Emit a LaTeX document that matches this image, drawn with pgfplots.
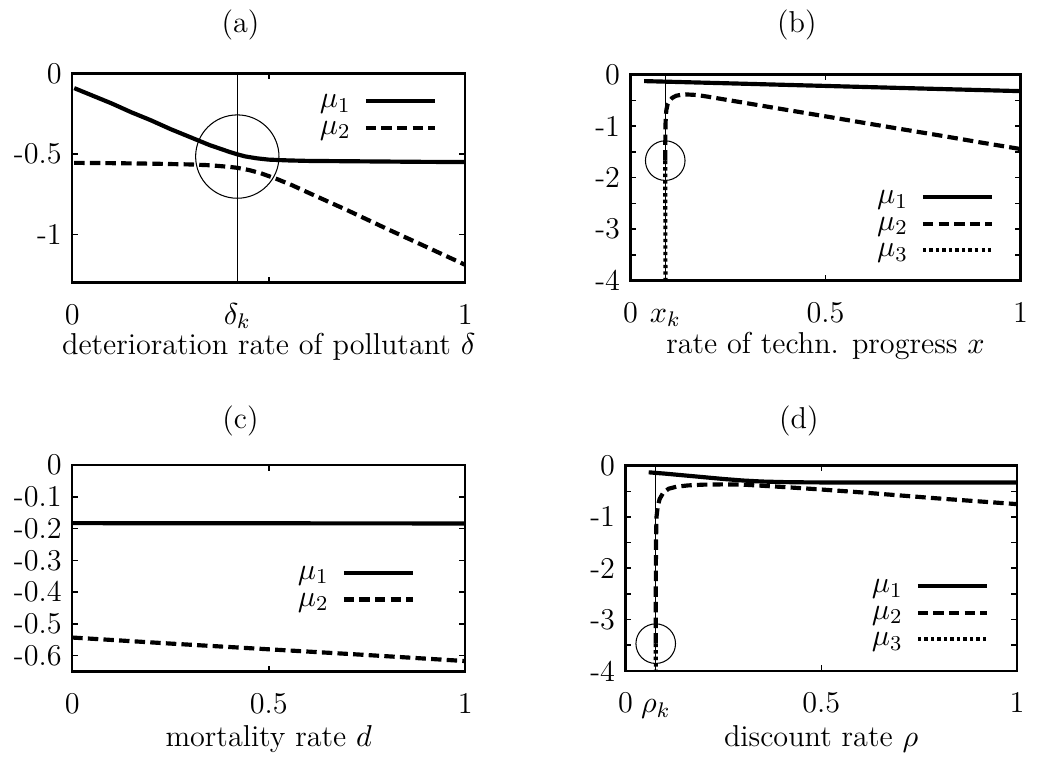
\RequirePackage{fix-cm}
\documentclass[border=0pt]{standalone}
\usepackage{pgfplots}
\pgfplotsset{compat=1.18}

% 1 px of the reference = 0.38pt
\pgfplotsset{
  panel/.style={
    scale only axis, anchor=south west,
    xmin=0, xmax=1,
    tick align=inside,
    axis line style={line width=0.9pt},
    every tick/.style={black, line width=0.6pt},
    major tick length=2.2pt, minor tick length=2.2pt,
    xtick={0,0.5,1},
    xticklabel style={yshift=-4.5pt, text height=1.5ex},
    clip mode=individual,
    legend plot pos=right,
    legend cell align=right,
    legend style={draw=none, fill=none, row sep=0.2pt, column sep=5pt, inner sep=0pt,
      nodes={inner sep=0pt, text height=1.2ex, text depth=0.8ex}},
    legend image code/.code={\draw[##1] (0pt,0.3ex) -- (26.6pt,0.3ex);},
  },
  mu1/.style={black, line width=1.6pt},
  mu2/.style={black, line width=1.6pt, dash pattern=on 4pt off 2pt},
  mu3/.style={black, line width=1.6pt, dash pattern=on 1.3pt off 1.2pt},
  kline/.style={black, line width=0.4pt, forget plot},
  ring/.style={black, line width=0.4pt, only marks, mark=o, forget plot},
}

\begin{document}
\fontsize{11.6}{13.9}\selectfont
\begin{tikzpicture}
\path (0,0) rectangle (394.44pt,286.9pt);

% (a)
\begin{axis}[panel, at={(27.74pt,182.4pt)}, width=150.86pt, height=80.18pt,
  ymin=-1.3, ymax=0,
  ytick={-1,-0.5,0}, yticklabels={-1,-0.5,0},
  xticklabels={0,,1},
  extra x ticks={0.42}, extra x tick labels={$\delta_k$},
  extra x tick style={major tick length=0pt},
  legend style={at={(0.93,0.915)}, anchor=north east}]
\addplot[mu1] coordinates {(0.005,-0.09) (0.05,-0.135) (0.1,-0.185) (0.15,-0.24)
  (0.2,-0.29) (0.25,-0.345) (0.3,-0.395) (0.35,-0.445) (0.38,-0.47) (0.4,-0.487)
  (0.42,-0.502) (0.44,-0.515) (0.47,-0.527) (0.5,-0.535) (0.55,-0.54) (0.6,-0.543)
  (0.7,-0.545) (0.8,-0.547) (0.9,-0.549) (1,-0.55)};
\addlegendentry{$\mu_1$}
\addplot[mu2] coordinates {(0.005,-0.555) (0.1,-0.557) (0.2,-0.56) (0.3,-0.565)
  (0.35,-0.57) (0.4,-0.58) (0.42,-0.586) (0.45,-0.6) (0.48,-0.62) (0.52,-0.655)
  (0.56,-0.695) (0.6,-0.74) (0.7,-0.85) (0.8,-0.965) (0.9,-1.077) (1,-1.19)};
\addlegendentry{$\mu_2$}
\addplot[kline] coordinates {(0.42,0) (0.42,-1.3)};
\addplot[ring, mark size=16pt] coordinates {(0.42,-0.516)};
\end{axis}

% (b)
\begin{axis}[panel, at={(242.06pt,183.16pt)}, width=149.72pt, height=79.04pt,
  ymin=-4, ymax=0,
  ytick={-4,-3,-2,-1,0}, yticklabels={-4,-3,-2,-1,0},
  minor ytick={-3.5,-2.5,-1.5,-0.5},
  xticklabels={0,0.5,1},
  extra x ticks={0.089}, extra x tick labels={$x_k$},
  extra x tick style={major tick length=0pt},
  legend style={at={(0.934,0.452)}, anchor=north east}]
\addplot[mu1] coordinates {(0.035,-0.125) (0.25,-0.168) (0.5,-0.219) (0.75,-0.27) (1,-0.32)};
\addlegendentry{$\mu_1$}
\addplot[mu2] coordinates {(0.089,-1.67) (0.0892,-1.3) (0.0896,-1.0) (0.0905,-0.8)
  (0.092,-0.68) (0.095,-0.58) (0.1,-0.51) (0.107,-0.45) (0.117,-0.41) (0.13,-0.39)
  (0.145,-0.385) (0.17,-0.395) (0.2,-0.43) (0.3,-0.557) (0.4,-0.684) (0.5,-0.81)
  (0.6,-0.938) (0.7,-1.065) (0.8,-1.19) (0.9,-1.32) (1,-1.445)};
\addlegendentry{$\mu_2$}
\addplot[mu3] coordinates {(0.089,-1.67) (0.0892,-2.5) (0.0895,-4)};
\addlegendentry{$\mu_3$}
\addplot[kline] coordinates {(0.089,0) (0.089,-4)};
\addplot[ring, mark size=7.6pt] coordinates {(0.089,-1.67)};
\end{axis}

% (c)
\begin{axis}[panel, at={(27.74pt,33.06pt)}, width=150.86pt, height=79.3pt,
  ymin=-0.65, ymax=0,
  ytick={-0.6,-0.5,-0.4,-0.3,-0.2,-0.1,0},
  yticklabels={-0.6,-0.5,-0.4,-0.3,-0.2,-0.1,0},
  xticklabels={0,0.5,1},
  legend style={at={(0.874,0.524)}, anchor=north east}]
\addplot[mu1] coordinates {(0,-0.183) (0.5,-0.1835) (1,-0.184)};
\addlegendentry{$\mu_1$}
\addplot[mu2] coordinates {(0,-0.543) (0.25,-0.562) (0.5,-0.58) (0.75,-0.598) (1,-0.617)};
\addlegendentry{$\mu_2$}
\end{axis}

% (d)
\begin{axis}[panel, at={(240.16pt,33.33pt)}, width=150.29pt, height=78.77pt,
  ymin=-4, ymax=0,
  ytick={-4,-3,-2,-1,0}, yticklabels={-4,-3,-2,-1,0},
  minor ytick={-3.5,-2.5,-1.5,-0.5},
  xticklabels={0,0.5,1},
  extra x ticks={0.077}, extra x tick labels={$\rho_k$},
  extra x tick style={major tick length=0pt},
  legend style={at={(0.93,0.46)}, anchor=north east}]
\addplot[mu1] coordinates {(0.059,-0.13) (0.1,-0.155) (0.15,-0.19) (0.2,-0.225)
  (0.25,-0.26) (0.3,-0.29) (0.35,-0.31) (0.4,-0.32) (0.45,-0.325) (0.5,-0.327)
  (0.7,-0.328) (1,-0.33)};
\addlegendentry{$\mu_1$}
\addplot[mu2] coordinates {(0.077,-3.47) (0.0772,-2.5) (0.0776,-1.5) (0.079,-1.0)
  (0.082,-0.8) (0.087,-0.65) (0.096,-0.53) (0.11,-0.45) (0.13,-0.41) (0.16,-0.385)
  (0.2,-0.37) (0.25,-0.365) (0.3,-0.37) (0.4,-0.415) (0.5,-0.465) (0.6,-0.52)
  (0.7,-0.58) (0.8,-0.64) (0.9,-0.695) (1,-0.75)};
\addlegendentry{$\mu_2$}
\addplot[mu3] coordinates {(0.077,-3.47) (0.0772,-3.8) (0.0774,-4)};
\addlegendentry{$\mu_3$}
\addplot[kline] coordinates {(0.077,0) (0.077,-4)};
\addplot[ring, mark size=7.6pt] coordinates {(0.077,-3.47)};
\end{axis}

\node at (92.34pt,281.2pt) {(a)};
\node at (305.9pt,281.2pt) {(b)};
\node at (92.34pt,129.2pt) {(c)};
\node at (306.66pt,129.2pt) {(d)};
\node at (103.17pt,157.89pt) {deterioration rate of pollutant $\delta$};
\node at (316.92pt,157.89pt) {rate of techn. progress $x$};
\node at (103.17pt,7.03pt) {mortality rate $d$};
\node at (315.21pt,7.03pt) {discount rate $\rho$};
\end{tikzpicture}
\end{document}
